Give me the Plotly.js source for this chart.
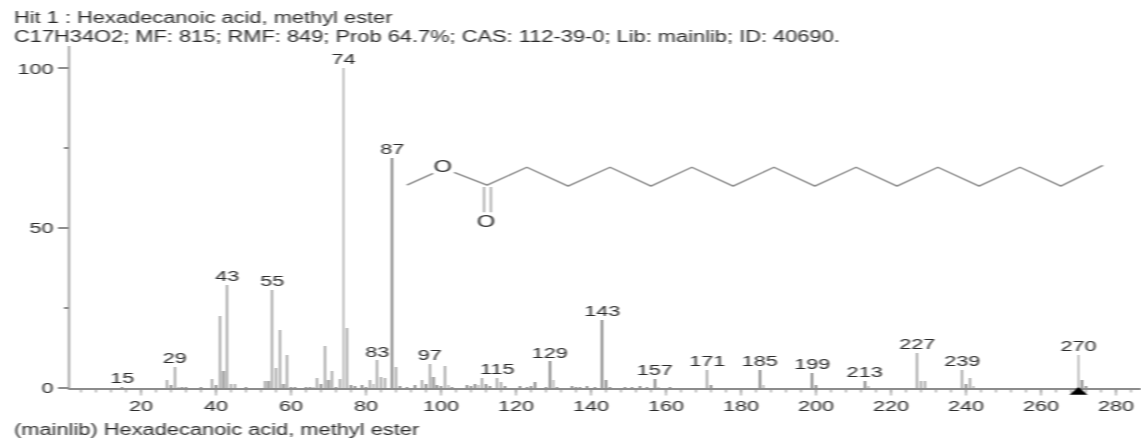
<!DOCTYPE html>
<html><head><meta charset="utf-8">
<script src="https://cdn.plot.ly/plotly-3.0.1.min.js"></script>
<style>html,body{margin:0;padding:0;background:#fff;overflow:hidden;width:1141px;height:439px}#c{width:815px;height:439px;transform:scaleX(1.4);transform-origin:0 0;filter:blur(0.6px)}</style>
</head><body><div id="c"></div>
<script>
const mz = [15,27,28,29,30,31,32,36,39,40,41,42,43,44,45,48,53,54,55,56,57,58,59,60,61,64,65,66,67,68,69,70,71,72,73,74,75,76,77,79,80,81,82,83,84,85,87,88,89,91,93,95,96,97,98,99,100,101,102,103,107,108,109,110,111,112,113,115,116,117,121,123,124,125,128,129,130,131,135,136,137,139,141,143,144,145,149,151,153,155,157,158,161,171,172,185,186,199,200,213,214,227,228,229,239,240,241,242,270,271,272];
const intensity = [0.3,2.5,0.9,6.5,0.3,0.3,0.4,0.3,2.8,0.8,22.6,5.2,32.3,1.3,1.3,0.3,2.1,2.3,30.7,6.2,18.2,1.3,10.4,0.4,0.3,0.3,0.3,0.3,3,1.2,13.2,2.5,5.4,0.4,2.8,100,18.8,1,0.5,1,0.4,2.5,1.2,8.6,3.5,3,71.8,6.6,0.5,0.4,0.9,2.6,1.2,7.5,3.4,1,0.5,7,1,0.4,1,0.6,1.2,0.9,3.1,1.2,0.7,3.1,2,0.6,0.7,0.4,0.6,1.8,0.4,8.3,2.4,0.4,0.6,0.3,0.4,0.6,0.4,21.2,2.6,0.4,0.4,0.4,0.5,0.3,2.8,0.4,0.3,5.7,1,5.7,1,4.7,1,2.3,0.5,11,2.3,2.2,5.7,1.4,3.1,0.5,10.4,2.4,0.5];
const broadMz = [27,29,39,41,42,43,44,45,53,54,55,56,57,58,59,67,69,70,71,73,75,81,83,84,85,88,95,97,98,101,111,115,116,171,227,228,229,239,241];
const labelMz = [15,29,43,55,74,83,87,97,115,129,143,157,171,185,199,213,227,239,270];
const labelY = [0.3,6.5,32.3,30.7,100,8.6,71.8,7.5,3.1,8.3,21.2,2.8,5.7,5.7,4.7,2.3,11,5.7,10.4];
const chainX = [90.9,97.9,null,103.5,112.3,122.9,133.9,145.1,156,166.9,177.9,188.8,199.7,210.7,221.6,232.5,243.5,254.4,265.3,276.5];
const chainY = [63.4,67.1,null,67.4,63.4,69,63.1,69,63.1,69,63.1,69,63.1,69,63.1,69,63.1,69,63.1,69.6];
const bondX = [111.5,111.5,null,113.3,113.3];
const bondY = [62.8,54.9,null,62.8,54.9];
const atomX = [100.5,112];
const atomY = [68.7,51.8];
const atomText = ['O','O'];
const line1 = 'Hit 1 : Hexadecanoic acid, methyl ester';
const line2 = 'C17H34O2; MF: 815; RMF: 849; Prob 64.7%; CAS: 112-39-0; Lib: mainlib; ID: 40690.';
const line3 = '(mainlib) Hexadecanoic acid, methyl ester';
const xTicks = [20,40,60,80,100,120,140,160,180,200,220,240,260,280];
const yTicks = [0,50,100];
const ink = '#2b2b2b', grey = '#8c8c8c';
const fnt = {family:'"Liberation Sans", Arial, sans-serif', size:15.5, color:ink};
const H = 342;
function note(text, px, py){
  return {text, xref:'paper', yref:'paper', x:(px-70)/1071, y:(388-py)/H, xanchor:'left', yanchor:'middle',
    showarrow:false, align:'left', borderpad:0, font:{...fnt, size:15.6}};
}
const isBroad = mz.map(m => broadMz.includes(m));
Plotly.newPlot('c', [
  {type:'bar', x:mz, y:intensity, width:isBroad.map(b => b ? 0.62 : 0.42),
    marker:{color:isBroad.map(b => b ? '#9c9c9c' : '#6f6f6f'), line:{width:0}}, hoverinfo:'x+y'},
  {type:'scatter', mode:'text', x:labelMz, y:labelY, text:labelMz.map(String), textposition:'top center',
    textfont:{...fnt, size:15.5}, cliponaxis:false, hoverinfo:'skip'},
  {type:'scatter', mode:'lines', x:chainX, y:chainY, line:{color:grey, width:1.4}, hoverinfo:'skip', connectgaps:false},
  {type:'scatter', mode:'lines', x:bondX, y:bondY, line:{color:grey, width:1.1}, hoverinfo:'skip', connectgaps:false},
  {type:'scatter', mode:'text', x:atomX, y:atomY, text:atomText, textposition:'middle center',
    textfont:{...fnt, size:17}, hoverinfo:'skip'}
], {
  width:815, height:439, showlegend:false, bargap:0,
  margin:{l:50, r:0, t:46, b:51, pad:0},
  paper_bgcolor:'#fff', plot_bgcolor:'#fff', font:fnt,
  xaxis:{range:[1.07,286.67], tickvals:xTicks, ticktext:xTicks.map(String), ticks:'outside', ticklen:6, tickwidth:0.9, tickcolor:grey, ticklabelstandoff:-3,
    minor:{dtick:4, tick0:0, ticks:'outside', ticklen:3, tickwidth:0.9, tickcolor:grey, showgrid:false},
    showgrid:false, zeroline:false, showline:true, linecolor:grey, linewidth:1.5, tickfont:{...fnt, size:15.5}},
  yaxis:{range:[0,106.9], tickvals:yTicks, ticktext:yTicks.map(String), ticks:'outside', ticklen:7, tickwidth:1.2, tickcolor:grey,
    minor:{dtick:25, tick0:0, ticks:'outside', ticklen:3, tickwidth:1.2, tickcolor:grey, showgrid:false},
    showgrid:false, zeroline:false, showline:true, linecolor:'#9c9c9c', linewidth:1.6, tickfont:{...fnt, size:15.5}},
  annotations:[note(line1,12,17), note(line2,12,36), note(line3,12,429)],
  shapes:[{type:'path', xref:'x', yref:'paper', layer:'above', path:'M 267.6 -0.02 L 272.4 -0.02 L 270 0.003 Z', fillcolor:'#000', line:{width:0}}]
}, {displayModeBar:false, staticPlot:true});
</script></body></html>
